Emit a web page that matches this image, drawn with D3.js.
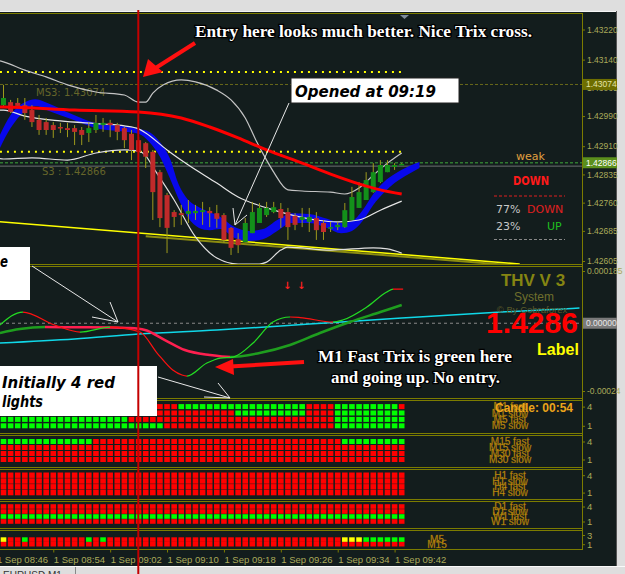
<!DOCTYPE html>
<html>
<head>
<meta charset="utf-8">
<script src="https://cdnjs.cloudflare.com/ajax/libs/d3/7.8.5/d3.min.js"></script>
<style>
  body { margin: 0; background: #dedede; overflow: hidden; }
  svg { display: block; }
</style>
</head>
<body>
<svg id="chart" width="625" height="574"></svg>
<script>
// ---- candles, one per minute, first bar is 08:47 ----
const openP = [1.43019,1.43027,1.43025,1.43019,1.43006,1.42980,1.42974,1.42966,1.42961,1.42958,
  1.42958,1.42953,1.42945,1.42953,1.42966,1.42972,1.42966,1.42958,1.42943,1.42926,
  1.42918,1.42895,1.42841,1.42780,1.42735,1.42732,1.42730,1.42732,1.42735,1.42738,
  1.42732,1.42727,1.42693,1.42663,1.42655,1.42679,1.42706,1.42727,1.42735,1.42743,
  1.42735,1.42725,1.42714,1.42709,1.42719,1.42706,1.42693,1.42695,1.42695,1.42714,
  1.42746,1.42767,1.42788,1.42815,1.42841,1.42855,1.42860];
const highP = [1.43073,1.43033,1.43038,1.43038,1.43019,1.42993,1.42985,1.42974,1.42972,1.42972,
  1.42966,1.42961,1.42974,1.42993,1.42985,1.42980,1.42972,1.42961,1.42953,1.42934,
  1.42921,1.42900,1.42847,1.42786,1.42740,1.42754,1.42767,1.42754,1.42762,1.42748,
  1.42754,1.42732,1.42695,1.42679,1.42719,1.42762,1.42759,1.42762,1.42762,1.42759,
  1.42746,1.42732,1.42746,1.42746,1.42735,1.42714,1.42709,1.42709,1.42759,1.42802,
  1.42815,1.42841,1.42865,1.42873,1.42873,1.42865,1.42865];
const lowP = [1.43014,1.42998,1.43011,1.42980,1.42961,1.42940,1.42940,1.42932,1.42945,1.42934,
  1.42913,1.42913,1.42921,1.42945,1.42948,1.42934,1.42926,1.42905,1.42873,1.42860,
  1.42852,1.42714,1.42695,1.42626,1.42695,1.42701,1.42706,1.42714,1.42701,1.42695,
  1.42693,1.42653,1.42621,1.42626,1.42655,1.42679,1.42706,1.42722,1.42732,1.42693,
  1.42661,1.42687,1.42695,1.42682,1.42661,1.42661,1.42682,1.42687,1.42693,1.42714,
  1.42746,1.42767,1.42786,1.42812,1.42841,1.42847,1.42860];
const closeP = [1.43038,1.43001,1.43017,1.42998,1.42974,1.42953,1.42953,1.42953,1.42958,1.42953,
  1.42948,1.42940,1.42958,1.42972,1.42972,1.42966,1.42948,1.42926,1.42900,1.42895,
  1.42882,1.42788,1.42719,1.42693,1.42722,1.42727,1.42738,1.42738,1.42740,1.42732,
  1.42717,1.42661,1.42640,1.42647,1.42706,1.42735,1.42746,1.42746,1.42748,1.42719,
  1.42695,1.42701,1.42722,1.42722,1.42687,1.42682,1.42695,1.42701,1.42740,1.42775,
  1.42788,1.42820,1.42841,1.42860,1.42860,1.42860,1.42863];

// bands: [bar index, price]
const upperBand = [[-1,1.43139],[0,1.43134],[3,1.43112],[6,1.43094],[9,1.43073],[13,1.43054],[17,1.43046],
  [19,1.43027],[20,1.43027],[21,1.43051],[22.5,1.43073],[25,1.43086],[27,1.43081],[30,1.43059],[32,1.43033],
  [34,1.42985],[35.5,1.42926],[37,1.42873],[38,1.42841],[40,1.42794],[42,1.42791],[46,1.42788],[48,1.42783],
  [50,1.42799],[52,1.42833],[54,1.42865],[56,1.42892]];
const middleBand = [[-1,1.43006],[0,1.43006],[3,1.42990],[8,1.42977],[14,1.42969],[17,1.42964],[19,1.42956],
  [20,1.42945],[23,1.42900],[26,1.42860],[30,1.42812],[33,1.42775],[37,1.42746],[41,1.42725],[44,1.42714],
  [47,1.42709],[50,1.42714],[53,1.42740],[56,1.42764]];
const lowerBand = [[-1,1.42879],[0,1.42876],[4,1.42879],[9,1.42873],[13,1.42892],[17,1.42900],[19,1.42897],
  [20,1.42885],[21,1.42855],[24,1.42767],[27,1.42669],[30,1.42613],[33,1.42597],[36,1.42597],[37,1.42602],
  [39,1.42634],[40,1.42642],[46,1.42634],[52,1.42640],[54,1.42637],[56,1.42626]];
const redMA = [[-1,1.43014],[0,1.43014],[10,1.43006],[19,1.43001],[25,1.42985],[29,1.42961],[33,1.42932],
  [37,1.42900],[42,1.42865],[46,1.42836],[50,1.42810],[53,1.42794],[56,1.42783]];
// blue ribbon: [bar index, top price, bottom price]
const blueBand = [[-0.5,1.42940,1.42905],[1,1.42993,1.42958],[3,1.43027,1.43003],[4.5,1.43035,1.43017],
  [6.5,1.43022,1.43003],[9.5,1.42996,1.42982],[13.5,1.42969,1.42956],[16.5,1.42964,1.42950],
  [19,1.42956,1.42943],[20.5,1.42948,1.42921],[22,1.42921,1.42882],[23.5,1.42873,1.42820],
  [24.5,1.42815,1.42775],[26,1.42767,1.42719],[27.5,1.42748,1.42693],[29,1.42735,1.42687],
  [30.5,1.42722,1.42690],[32.5,1.42695,1.42666],[34.5,1.42685,1.42658],[36.5,1.42690,1.42663],
  [38.5,1.42714,1.42685],[40.5,1.42732,1.42706],[43,1.42730,1.42706],[45.5,1.42717,1.42693],
  [47.5,1.42706,1.42679],[49,1.42711,1.42685],[50.5,1.42740,1.42711],[52,1.42783,1.42754],
  [53.5,1.42815,1.42786],[55,1.42836,1.42812],[57,1.42857,1.42836],[58.5,1.42868,1.42852]];
const trendYellow = [[-0.5,1.42709],[72.6,1.42597]];
const trendOlive = [[20,1.42671],[72.6,1.42592]];
const dottedLevels = [1.43107, 1.42895];
const ms3Level = 1.43074, s3Level = 1.42866, bidLevel = 1.42861;
const mainTicks = [1.43220,1.43140,1.43065,1.42990,1.42910,1.42835,1.42760,1.42685,1.42605];

// ---- trix sub-window ----
const cyanLine = [[-0.5,-0.0000701],[10,-0.0000559],[19,-0.0000382],[30,-0.0000241],[43,-0.0000028],
  [56,0.0000184],[70,0.0000397],[81,0.0000538]];
const slowTrix = [[-0.5,-0.0000347],[2.3,-0.0000205],[5.8,-0.0000135],[10.8,-0.0000142],[15,-0.0000150],
  [17.8,-0.0000170],[19.9,-0.0000241],[22.7,-0.0000595],[25.5,-0.0000949],[29,-0.0001126],
  [31.9,-0.0001197],[36,-0.0001055],[40.3,-0.0000772],[44.5,-0.0000347],[48.7,0.0000042],
  [53,0.0000397],[56,0.0000645]];
const fastTrix = [[-0.5,-0.0000064],[2.7,0.0000397],[7.2,-0.0000064],[10.8,-0.0000312],[15,-0.0000135],
  [19.2,-0.0000312],[21.6,-0.0001055],[23.8,-0.0001658],[25.1,-0.0001835],[25.8,-0.0001870],
  [28.6,-0.0001410],[30.5,-0.0001233],[32.3,-0.0001197],[35.1,-0.0000701],[37.9,0.0000042],
  [40.3,0.0000220],[41.7,0.0000202],[46.3,0.0000042],[47.7,0.0000113],[51.1,0.0000574],
  [53.9,0.0001105],[54.8,0.0001211],[56.2,0.0001205]];
const indTicks = [0.000185, -0.00024];
const indTickLabels = ["0.000185", "-0.00024"];

// ---- time axis ----
const timeTickIdx = [-1,7,15,23,31,39,47,55];
const timeLabels = ["1 Sep 08:46","1 Sep 08:54","1 Sep 09:02","1 Sep 09:10","1 Sep 09:18","1 Sep 09:26","1 Sep 09:34","1 Sep 09:42"];

// ---- light grids, run-length: [state, count] ----
const m1Fast  = [["R",25],["G",18],["R",4],["G",9],["R",1]];
const m1Slow  = [["R",33],["G",10],["R",4],["G",10]];
const m5Fast  = [["G",18],["R",29],["G",10]];
const m5Slow  = [["G",23],["R",24],["G",10]];
const m15Fast = [["G",13],["R",35],["G",9]];
const allRed  = [["R",57]];
const w1Fast  = [["G",57]];
const m5Sig   = [["Y",1],["R",2],["G",1],["R",8],["G",1],["R",1],["G",1],["R",33],["Y",3],["G",6]];
const m15Sig  = [["R",57]];
const rowNames = [
  ["M1 fast","M1 slow","M5 fast","M5 slow"],
  ["M15 fast","M15 slow","M30 fast","M30 slow"],
  ["H1 fast","H1 slow","H4 fast","H4 slow"],
  ["D1 fast","D1 slow","W1 fast","W1 slow"],
  ["M5","M15"]
];

const svg = d3.select("#chart");
const BG = "#131d1d", OLIVE = "#7c7c00", AXTXT = "#aaaa5a";
const lightColor = {R: "#ff0000", G: "#00ff00", Y: "#ffff00"};

const x = d3.scaleLinear().domain([0, 56]).range([3.5, 401.7]);
const yMain = d3.scaleLinear().domain([1.42605, 1.43220]).range([261, 29.5]);
const yInd = d3.scaleLinear().domain([-0.00024, 0.000185]).range([391, 271]);

// background
svg.append("rect").attr("x", 0).attr("y", 11).attr("width", 616).attr("height", 556).attr("fill", BG);
svg.append("line").attr("x1", 0).attr("x2", 616).attr("y1", 11.5).attr("y2", 11.5).attr("stroke", "#f4f4f4");
svg.append("line").attr("x1", 616.5).attr("x2", 616.5).attr("y1", 11).attr("y2", 567).attr("stroke", "#555");
svg.append("line").attr("x1", 0).attr("x2", 625).attr("y1", 566.5).attr("y2", 566.5).attr("stroke", "#fafafa");
svg.append("line").attr("x1", 75.5).attr("x2", 75.5).attr("y1", 567).attr("y2", 574).attr("stroke", "#888");
svg.append("text").attr("x", 3).attr("y", 579).attr("font-family", "Liberation Sans").attr("font-size", 10)
  .attr("fill", "#333").text("EURUSD,M1");

const defs = svg.append("defs");
defs.append("clipPath").attr("id", "clipMain").append("rect").attr("x", 0).attr("y", 14).attr("width", 582).attr("height", 250);
defs.append("clipPath").attr("id", "clipInd").append("rect").attr("x", 0).attr("y", 267).attr("width", 582).attr("height", 131);

// panel borders (olive)
const hLines = [13.5, 264.5, 266.5, 398.5, 400.5, 433.5, 435.5, 467.5, 469.5, 499.5, 501.5, 528.5, 530.5, 549.5];
svg.selectAll("line.sep").data(hLines).join("line").attr("class", "sep")
  .attr("x1", 0).attr("x2", 582).attr("y1", d => d).attr("y2", d => d)
  .attr("stroke", OLIVE).attr("stroke-width", 1);
svg.append("line").attr("x1", 582.5).attr("x2", 582.5).attr("y1", 13).attr("y2", 550).attr("stroke", OLIVE);
svg.append("path").attr("d", "M400,15 L409,15 L404.5,19 Z").attr("fill", "#7f8c99");

// ================= main window =================
const gMain = svg.append("g").attr("clip-path", "url(#clipMain)");
const priceLine = d3.line().x(d => x(d[0])).y(d => yMain(d[1])).curve(d3.curveMonotoneX);

// levels
gMain.append("line").attr("x1", 0).attr("x2", 582).attr("y1", yMain(ms3Level)).attr("y2", yMain(ms3Level))
  .attr("stroke", "#6a6a1a").attr("stroke-dasharray", "3,2");
gMain.append("line").attr("x1", 0).attr("x2", 582).attr("y1", yMain(bidLevel) + 1.5).attr("y2", yMain(bidLevel) + 1.5)
  .attr("stroke", "#6c7070").attr("stroke-width", 1);
gMain.append("line").attr("x1", 0).attr("x2", 582).attr("y1", yMain(s3Level)).attr("y2", yMain(s3Level))
  .attr("stroke", "#2f7a30").attr("stroke-width", 1.5).attr("stroke-dasharray", "3,2");
gMain.selectAll("line.dot").data(dottedLevels).join("line").attr("class", "dot")
  .attr("x1", x(-0.5)).attr("x2", x(56.3)).attr("y1", d => yMain(d)).attr("y2", d => yMain(d))
  .attr("stroke", "#ffff00").attr("stroke-width", 2).attr("stroke-dasharray", "2,5");
gMain.append("text").attr("x", 36).attr("y", 96).attr("font-family", "DejaVu Sans").attr("font-size", 10)
  .attr("fill", "#66662a").text("MS3: 1.43074");
gMain.append("text").attr("x", 42).attr("y", 175).attr("font-family", "DejaVu Sans").attr("font-size", 10)
  .attr("fill", "#66662a").text("S3 : 1.42866");

// trend lines
gMain.append("path").datum(trendOlive).attr("d", d3.line().x(d => x(d[0])).y(d => yMain(d[1])))
  .attr("fill", "none").attr("stroke", "#8c8c10").attr("stroke-width", 2);
gMain.append("path").datum(trendYellow).attr("d", d3.line().x(d => x(d[0])).y(d => yMain(d[1])))
  .attr("fill", "none").attr("stroke", "#ffff00").attr("stroke-width", 1.5);

// blue ribbon
gMain.append("path").datum(blueBand)
  .attr("d", d3.area().x(d => x(d[0])).y0(d => yMain(d[2])).y1(d => yMain(d[1])).curve(d3.curveMonotoneX))
  .attr("fill", "#0808ec");

// bollinger-style bands
[[upperBand, "#c4c4c4"], [middleBand, "#e6e6e6"], [lowerBand, "#e0e0e0"]].forEach(([b, c]) => {
  gMain.append("path").datum(b).attr("d", priceLine).attr("fill", "none").attr("stroke", c).attr("stroke-width", 1.2);
});

// candles
const idx = d3.range(openP.length);
gMain.selectAll("line.wick").data(idx).join("line").attr("class", "wick")
  .attr("x1", i => x(i)).attr("x2", i => x(i))
  .attr("y1", i => yMain(highP[i])).attr("y2", i => yMain(lowP[i]))
  .attr("stroke", "#9e9a1c").attr("stroke-width", 1);
gMain.selectAll("rect.body").data(idx).join("rect").attr("class", "body")
  .attr("x", i => x(i) - 2.5).attr("width", 5)
  .attr("y", i => yMain(Math.max(openP[i], closeP[i])))
  .attr("height", i => Math.max(1.5, Math.abs(yMain(openP[i]) - yMain(closeP[i]))))
  .attr("fill", i => closeP[i] >= openP[i] ? "#13901a" : "#c02a2a");

// red moving average
gMain.append("path").datum(redMA).attr("d", priceLine).attr("fill", "none")
  .attr("stroke", "#ff0000").attr("stroke-width", 3);

// info block on the right
const info = svg.append("g").attr("font-family", "DejaVu Sans");
info.append("text").attr("x", 516).attr("y", 160).attr("font-size", 11).attr("fill", "#e0a040").text("weak");
info.append("text").attr("x", 513).attr("y", 185).attr("font-size", 13).attr("font-weight", "bold")
  .attr("textLength", 36).attr("lengthAdjust", "spacingAndGlyphs").attr("fill", "#ff1a1a").text("DOWN");
info.append("line").attr("x1", 494).attr("x2", 565).attr("y1", 196).attr("y2", 196)
  .attr("stroke", "#e02020").attr("stroke-dasharray", "3,2");
info.append("text").attr("x", 496).attr("y", 213).attr("font-size", 11).attr("fill", "#c8c8c8").text("77%");
info.append("text").attr("x", 527).attr("y", 213).attr("font-size", 11).attr("fill", "#e02020").text("DOWN");
info.append("text").attr("x", 496).attr("y", 230).attr("font-size", 11).attr("fill", "#c8c8c8").text("23%");
info.append("text").attr("x", 547).attr("y", 230).attr("font-size", 11).attr("fill", "#20c020").text("UP");
info.append("line").attr("x1", 494).attr("x2", 565).attr("y1", 239.5).attr("y2", 239.5)
  .attr("stroke", "#888").attr("stroke-dasharray", "3,2");

// price axis
const axMain = svg.append("g").attr("transform", "translate(582,0)")
  .call(d3.axisRight(yMain).tickValues(mainTicks).tickFormat(d3.format(".5f")).tickSize(3).tickPadding(2));
axMain.select(".domain").remove();
axMain.selectAll("line").attr("stroke", OLIVE);
axMain.selectAll("text").attr("fill", AXTXT).attr("font-family", "Liberation Sans").attr("font-size", 8.5);
// current level boxes
function priceBox(v, fill, txt, label, yS) {
  const yy = yS(v);
  svg.append("rect").attr("x", 583).attr("y", yy - 5.5).attr("width", 34).attr("height", 11).attr("fill", fill);
  svg.append("text").attr("x", 586).attr("y", yy + 3).attr("font-family", "Liberation Sans").attr("font-size", 8.5)
    .attr("fill", txt).text(label);
}
priceBox(ms3Level, "#6e6e00", "#e4e4a8", "1.43074", yMain);
priceBox(s3Level, "#5b8f1c", "#ffffff", "1.42866", yMain);

// ================= trix window =================
const gInd = svg.append("g").attr("clip-path", "url(#clipInd)");
const indLine = d3.line().x(d => x(d[0])).y(d => yInd(d[1])).curve(d3.curveMonotoneX);
gInd.append("line").attr("x1", 0).attr("x2", 582).attr("y1", yInd(0)).attr("y2", yInd(0))
  .attr("stroke", "#8a8a8a").attr("stroke-dasharray", "3,3");

// colour a line green while it rises and red while it falls, using hard gradient stops
function slopeGradient(id, pts, up, down) {
  const grad = defs.append("linearGradient").attr("id", id).attr("gradientUnits", "userSpaceOnUse")
    .attr("x1", 0).attr("x2", 582).attr("y1", 0).attr("y2", 0);
  for (let k = 0; k < pts.length - 1; k++) {
    const c = pts[k + 1][1] >= pts[k][1] ? up : down;
    grad.append("stop").attr("offset", Math.max(0, x(pts[k][0])) / 582).attr("stop-color", c);
    grad.append("stop").attr("offset", Math.min(582, x(pts[k + 1][0])) / 582).attr("stop-color", c);
  }
}
slopeGradient("gSlow", slowTrix, "#1e9e1e", "#ff1f4f");
slopeGradient("gFast", fastTrix, "#22dd22", "#ff1010");

gInd.append("path").datum(cyanLine).attr("d", indLine).attr("fill", "none").attr("stroke", "#10d8e8").attr("stroke-width", 1.5);
gInd.append("path").datum(slowTrix).attr("d", indLine).attr("fill", "none").attr("stroke", "url(#gSlow)").attr("stroke-width", 2.5);
gInd.append("path").datum(fastTrix).attr("d", indLine).attr("fill", "none").attr("stroke", "url(#gFast)").attr("stroke-width", 1.2);

gInd.append("text").attr("x", 283).attr("y", 289).attr("font-family", "DejaVu Sans").attr("font-size", 10)
  .attr("font-weight", "bold").attr("fill", "#ff2020").text("↓");
gInd.append("text").attr("x", 297).attr("y", 289).attr("font-family", "DejaVu Sans").attr("font-size", 10)
  .attr("font-weight", "bold").attr("fill", "#ff2020").text("↓");

const brand = gInd.append("g").attr("font-family", "Liberation Sans").attr("text-anchor", "middle");
brand.append("text").attr("x", 533).attr("y", 286).attr("font-size", 17).attr("font-weight", "bold")
  .attr("fill", "#858512").text("THV V 3");
brand.append("text").attr("x", 534).attr("y", 301).attr("font-size", 12).attr("fill", "#6f6f2c").text("System");
brand.append("text").attr("x", 532).attr("y", 313).attr("font-size", 9.5).attr("fill", "#59592a").text("© By Cobraforex");
brand.append("text").attr("x", 532).attr("y", 333).attr("font-size", 30).attr("font-weight", "bold")
  .attr("fill", "#ff0000").text("1.4286");
brand.append("text").attr("x", 558).attr("y", 355).attr("font-size", 16).attr("font-weight", "bold")
  .attr("fill", "#ffff00").text("Label");

const axInd = svg.append("g").attr("transform", "translate(582,0)")
  .call(d3.axisRight(yInd).tickValues(indTicks).tickFormat((d, i) => indTickLabels[i]).tickSize(3).tickPadding(2));
axInd.select(".domain").remove();
axInd.selectAll("line").attr("stroke", OLIVE);
axInd.selectAll("text").attr("fill", AXTXT).attr("font-family", "Liberation Sans").attr("font-size", 8.5);
priceBox(0, "#7a7a7a", "#e8e8e8", "0.00000", yInd);

// ================= light grids =================
const lightPanels = [
  {rows: [m1Fast, m1Slow, m5Fast, m5Slow], lv: [4, 1], y: [406.6, 425.8], h: 5, ticks: [4, 1]},
  {rows: [m15Fast, allRed, allRed, allRed], lv: [4, 1], y: [441.5, 459.5], h: 5, ticks: [4, 1]},
  {rows: [allRed, allRed, allRed, allRed], lv: [4, 1], y: [475.2, 492.6], h: 5.4, ticks: [4, 1]},
  {rows: [allRed, allRed, w1Fast, allRed], lv: [4, 1], y: [506.5, 521.5], h: 4.6, ticks: [4, 1]},
  {rows: [m5Sig, m15Sig], lv: [3, 1], y: [535, 544.2], h: 4.6, ticks: [3, 1], first: 2}
];
const expand = runs => runs.flatMap(([s, n]) => Array(n).fill(s));
const gLights = svg.append("g");
lightPanels.forEach((p, pi) => {
  const ly = d3.scaleLinear().domain(p.lv).range(p.y);
  const top = p.first || 4;
  p.rows.forEach((runs, r) => {
    const level = top - r;
    const cells = expand(runs);
    gLights.selectAll(null).data(cells).join("rect")
      .attr("x", (d, i) => x(i) - 2.8).attr("width", 5.6)
      .attr("y", ly(level) - p.h / 2).attr("height", p.h)
      .attr("fill", d => lightColor[d]);
    gLights.append("text").attr("x", pi === 4 ? 437 : 510).attr("y", ly(level) + 3.5)
      .attr("text-anchor", "middle").attr("font-family", "Liberation Sans").attr("font-size", 10)
      .attr("fill", "#e2a418").attr("stroke", "#6b5200").attr("stroke-width", 0.3)
      .text(rowNames[pi][r]);
  });
  const ax = svg.append("g").attr("transform", "translate(582,0)")
    .call(d3.axisRight(ly).tickValues(p.ticks).tickFormat(d3.format("d")).tickSize(3).tickPadding(2));
  ax.select(".domain").remove();
  ax.selectAll("line").attr("stroke", OLIVE);
  ax.selectAll("text").attr("fill", AXTXT).attr("font-family", "Liberation Sans").attr("font-size", 9.5);
});
svg.append("text").attr("x", 495).attr("y", 412).attr("font-family", "Liberation Sans").attr("font-size", 12)
  .attr("font-weight", "bold").attr("fill", "#eba41a").text("Candle:  00:54");

// time axis
const axTime = svg.append("g").attr("transform", "translate(0,549.5)")
  .call(d3.axisBottom(x).tickValues(timeTickIdx).tickFormat((d, i) => timeLabels[i]).tickSize(3).tickPadding(4));
axTime.select(".domain").remove();
axTime.selectAll("line").attr("stroke", OLIVE);
axTime.selectAll("text").attr("text-anchor", "start").attr("fill", AXTXT)
  .attr("font-family", "Liberation Sans").attr("font-size", 9.5);

// ================= annotations =================
const notes = svg.append("g");
function whiteBox(x0, y0, w, h, border) {
  notes.append("rect").attr("x", x0).attr("y", y0).attr("width", w).attr("height", h)
    .attr("fill", "#ffffff").attr("stroke", border ? "#222" : "none");
}
function comic(txt, x0, y0, len) {
  notes.append("text").attr("x", x0).attr("y", y0).attr("font-family", "DejaVu Sans").attr("font-size", 16)
    .attr("font-weight", "bold").attr("font-style", "italic").attr("fill", "#000")
    .attr("textLength", len).attr("lengthAdjust", "spacingAndGlyphs").text(txt);
}
function serifNote(txt, x0, y0, len) {
  notes.append("text").attr("x", x0).attr("y", y0).attr("font-family", "Liberation Serif").attr("font-size", 16)
    .attr("font-weight", "bold").attr("fill", "#ffffff").attr("stroke", "#000").attr("stroke-width", 2.5)
    .attr("paint-order", "stroke").attr("textLength", len).attr("lengthAdjust", "spacingAndGlyphs").text(txt);
}
function whiteArrow(pts) {
  notes.append("path").attr("d", d3.line()(pts)).attr("fill", "none").attr("stroke", "#e8e8e8").attr("stroke-width", 1);
}

whiteBox(0, 247, 30, 53, false);
comic("e", 0, 267, 8);
whiteArrow([[32, 266], [118, 322]]);
whiteArrow([[110, 302], [118, 322], [92, 317]]);

whiteBox(0, 366, 157, 50, false);
comic("Initially 4 red", 2, 388, 113);
comic("lights", 2, 407, 41);
whiteArrow([[158, 377], [230, 398]]);
whiteArrow([[218, 383], [230, 398], [204, 397]]);

whiteBox(291, 78, 168, 25, true);
comic("Opened at 09:19", 295, 97, 141);
whiteArrow([[289, 103], [235, 225]]);
whiteArrow([[233, 208], [235, 225], [247, 215]]);

serifNote("Entry here looks much better. Nice Trix cross.", 195, 37, 337);
serifNote("M1 Fast Trix is green here", 318, 362, 194);
serifNote("and going up. No entry.", 331, 383, 169);

// red arrows
notes.append("line").attr("x1", 195).attr("y1", 43).attr("x2", 154).attr("y2", 69)
  .attr("stroke", "#ff1010").attr("stroke-width", 4);
notes.append("path").attr("d", "M143,77 L148,59 L163,72 Z").attr("fill", "#ff1010");
notes.append("line").attr("x1", 304).attr("y1", 362).attr("x2", 230).attr("y2", 366.5)
  .attr("stroke", "#ff1010").attr("stroke-width", 4);
notes.append("path").attr("d", "M215,367 L233,359 L234,375 Z").attr("fill", "#ff1010");

// entry marker line
svg.append("line").attr("x1", 138.3).attr("x2", 138.3).attr("y1", 10).attr("y2", 574)
  .attr("stroke", "#c40000").attr("stroke-width", 2);
</script>
</body>
</html>
